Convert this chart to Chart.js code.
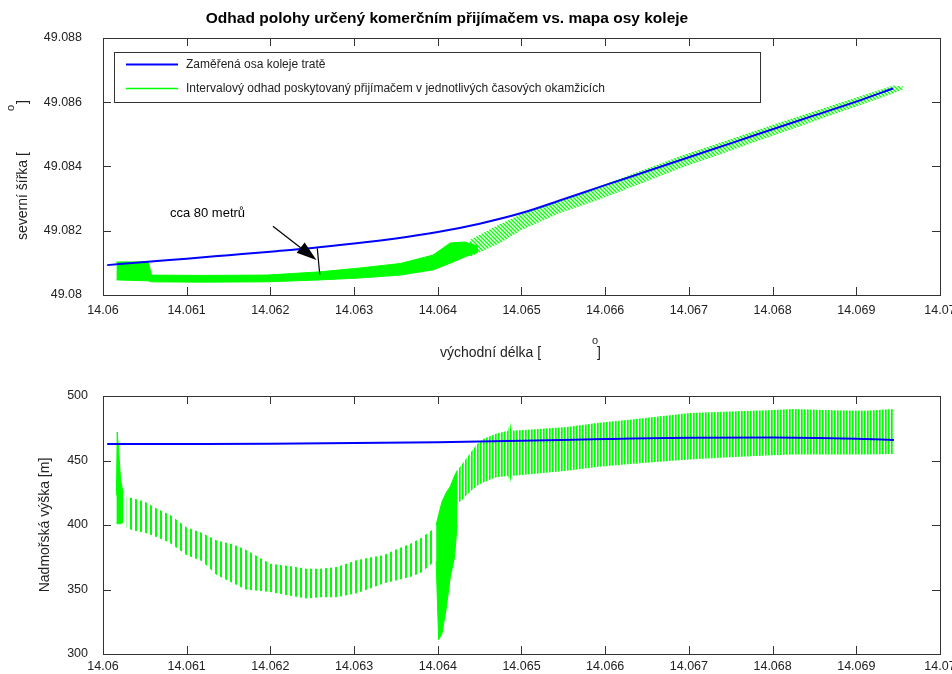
<!DOCTYPE html>
<html>
<head>
<meta charset="utf-8">
<script src="https://cdn.jsdelivr.net/npm/chart.js@4.4.1/dist/chart.umd.min.js"></script>
<style>
    html, body { margin: 0; padding: 0; background: #fff; }
    #wrap { position: relative; width: 952px; height: 674px; overflow: hidden; }
    #topChart { position: absolute; left: 0; top: 0; }
    #bottomChart { position: absolute; left: 0; top: 370px; }
</style>
</head>
<body>
<div id="wrap">
    <canvas id="topChart" width="952" height="370"></canvas>
    <canvas id="bottomChart" width="952" height="304"></canvas>
</div>
<script>
// Axis ticks
const lonTicks = [14.06, 14.061, 14.062, 14.063, 14.064, 14.065, 14.066, 14.067, 14.068, 14.069, 14.07];
const lonTickLabels = ["14.06", "14.061", "14.062", "14.063", "14.064", "14.065", "14.066", "14.067", "14.068", "14.069", "14.07"];
const latTicks = [49.08, 49.082, 49.084, 49.086, 49.088];
const latTickLabels = ["49.08", "49.082", "49.084", "49.086", "49.088"];
const altTicks = [300, 350, 400, 450, 500];
const altTickLabels = ["300", "350", "400", "450", "500"];

// Surveyed track axis (top: position)
const trackLon = [14.06005, 14.0605, 14.061, 14.0615, 14.062, 14.0625, 14.063, 14.0635, 14.064, 14.0645,
    14.065, 14.0655, 14.066, 14.0665, 14.067, 14.0675, 14.068, 14.0685, 14.069, 14.06944];
const trackLat = [49.08093, 49.08103, 49.08113, 49.08124, 49.08135, 49.08146, 49.0816, 49.08176, 49.08196, 49.08222,
    49.08255, 49.08298, 49.08342, 49.08385, 49.08429, 49.08472, 49.08516, 49.08559, 49.08602, 49.08643];

// Receiver interval estimates (top), dense part
const fixLon = [14.06016, 14.06054, 14.06058, 14.06116, 14.06196, 14.06259, 14.06307, 14.06355, 14.06394, 14.06415, 14.06432, 14.06448];
const fixLatLow = [49.08047, 49.08044, 49.08041, 49.0804, 49.08041, 49.08047, 49.08053, 49.08062, 49.08078, 49.08099, 49.08118, 49.08134];
const fixLatHigh = [49.08103, 49.08103, 49.08062, 49.08061, 49.08062, 49.08072, 49.08084, 49.08098, 49.08124, 49.08162, 49.08165, 49.08152];
// Receiver interval estimates (top), hatched part along the track
const fixTailLon = [14.06438, 14.06474, 14.065, 14.06546, 14.06594, 14.06689, 14.06808, 14.06944, 14.06956];
const fixTailLatLow = [49.08118, 49.08161, 49.08202, 49.08255, 49.08298, 49.08394, 49.08503, 49.08627, 49.0864];
const fixTailLatHigh = [49.08171, 49.0822, 49.08252, 49.08295, 49.08339, 49.08432, 49.08537, 49.08652, 49.08649];

// Annotation
const noteText = "cca 80 metrů";
const notePos = [14.0608, 49.08242];
const arrowFrom = [14.06203, 49.08214];
const arrowTo = [14.06255, 49.08109];
const gapFrom = [14.06256, 49.08145];
const gapTo = [14.06259, 49.08064];

// Track altitude (bottom)
const trackAltLon = [14.06005, 14.061, 14.062, 14.063, 14.064, 14.065, 14.066, 14.067, 14.068, 14.069, 14.06945];
const trackAlt = [462.7, 462.8, 463, 463.5, 464.2, 465.3, 466.7, 467.7, 467.8, 466.8, 465.9];

// Receiver altitude intervals (bottom)
const altSpikeLon = [14.06016, 14.06017, 14.06019, 14.06021, 14.06024];
const altSpikeLow = [402, 401, 401, 401, 402];
const altSpikeHigh = [423, 472, 455, 435, 425];

const altLeftLon = [14.06028, 14.06035, 14.0605, 14.06064, 14.0608, 14.061, 14.06118, 14.06136, 14.06155, 14.0617,
    14.062, 14.06225, 14.06243, 14.0626, 14.06279, 14.06303, 14.0632, 14.06335, 14.0635, 14.06367, 14.0638, 14.06395];
const altLeftLow = [398, 396, 394, 390.7, 386, 376.5, 372, 361, 355, 350,
    348, 345, 343, 344, 344, 347, 351, 354.6, 357, 359.7, 363, 371.3];
const altLeftHigh = [421.6, 421, 418, 412.8, 408, 398, 394, 388, 385, 381,
    370, 368, 366, 366, 367.5, 372.6, 375, 376.5, 381, 385.5, 390, 397];

const altDipLon = [14.06398, 14.06401, 14.06405, 14.0641, 14.06415, 14.0642, 14.06423];
const altDipLow = [372, 311, 316, 335, 360, 375, 400];
const altDipHigh = [400, 408, 418, 425, 430, 438, 442];

const altRightLon = [14.06423, 14.0643, 14.06438, 14.06446, 14.06454, 14.0647, 14.06484, 14.06486, 14.06488, 14.0652,
    14.06554, 14.0659, 14.06634, 14.06701, 14.0675, 14.06793, 14.06825, 14.0687, 14.06912, 14.06944];
const altRightLow = [416.5, 420, 425.5, 430, 433, 437, 438, 432, 438, 440,
    442, 445, 447.4, 450.7, 452.5, 453.8, 454.6, 454.6, 454.6, 455];
const altRightHigh = [442, 448, 455, 462, 466.7, 471, 473, 481, 473, 474.5,
    476, 479, 482, 486.8, 488, 489, 490, 489, 488.6, 490];

const legendLabels = ["Zaměřená osa koleje tratě", "Intervalový odhad poskytovaný přijímačem v jednotlivých časových okamžicích"];

const FONT = '"Liberation Sans", Arial, sans-serif';
const BLUE = "#0000ff";
const GREEN = "#00ff00";
const AXIS = "#333333";
const TEXT = "#222222";

// Fill patterns for the interval bands
function makePattern(w, h, draw) {
    const c = document.createElement("canvas");
    c.width = w;
    c.height = h;
    const g = c.getContext("2d");
    draw(g);
    return g.createPattern(c, "repeat");
}
const sparseBars = makePattern(5, 4, (g) => { g.fillStyle = GREEN; g.fillRect(0, 0, 2, 4); });
const denseBars = makePattern(3, 4, (g) => { g.fillStyle = GREEN; g.fillRect(0, 0, 1.7, 4); });
const hatch = makePattern(4, 4, (g) => {
    g.strokeStyle = GREEN;
    g.lineWidth = 1.3;
    g.beginPath();
    g.moveTo(-1, -1); g.lineTo(5, 5);
    g.moveTo(-5, -1); g.lineTo(1, 5);
    g.moveTo(3, -1); g.lineTo(9, 5);
    g.stroke();
});

function pts(xs, ys) {
    return xs.map((x, i) => ({ x: x, y: ys[i] }));
}
function lineSet(xs, ys, color, width) {
    return {
        data: pts(xs, ys), borderColor: color, borderWidth: width, pointRadius: 0, fill: false,
        cubicInterpolationMode: "monotone",
    };
}
function bandSet(xs, lo, hi, fillStyle, edge) {
    const stroke = edge ? GREEN : "rgba(0,0,0,0)";
    return [
        { data: pts(xs, lo), borderColor: stroke, borderWidth: edge ? 1 : 0, pointRadius: 0, fill: false, tension: 0 },
        { data: pts(xs, hi), borderColor: stroke, borderWidth: edge ? 1 : 0, pointRadius: 0, fill: "-1", backgroundColor: fillStyle, tension: 0 },
    ];
}

function xScale(labelPad, height) {
    return {
        type: "linear",
        min: 14.06,
        max: 14.07,
        grid: { display: false, drawTicks: false },
        border: { display: false },
        afterBuildTicks: (s) => { s.ticks = lonTicks.map((v) => ({ value: v })); },
        ticks: {
            autoSkip: false, maxRotation: 0, padding: labelPad, color: TEXT,
            font: { family: FONT, size: 12.5 },
            callback: (v, i) => lonTickLabels[i],
        },
        afterFit: (s) => { s.height = height; s.paddingLeft = 0; s.paddingRight = 0; },
    };
}
function yScale(min, max, ticks, labels, labelPad) {
    return {
        type: "linear",
        min: min,
        max: max,
        grid: { display: false, drawTicks: false },
        border: { display: false },
        afterBuildTicks: (s) => { s.ticks = ticks.map((v) => ({ value: v })); },
        ticks: {
            autoSkip: false, padding: labelPad, color: TEXT,
            font: { family: FONT, size: 12.5 },
            callback: (v, i) => labels[i],
        },
        afterFit: (s) => { s.width = 103; s.paddingTop = 0; s.paddingBottom = 0; },
    };
}

// Box around the axes with inward ticks on all four sides
const boxTicks = {
    id: "boxTicks",
    afterDatasetsDraw(chart) {
        const { ctx, chartArea: a, scales } = chart;
        ctx.save();
        ctx.strokeStyle = AXIS;
        ctx.lineWidth = 1;
        ctx.strokeRect(Math.round(a.left) + 0.5, Math.round(a.top) + 0.5, Math.round(a.width), Math.round(a.height));
        ctx.beginPath();
        scales.x.ticks.forEach((t) => {
            const px = Math.round(scales.x.getPixelForValue(t.value)) + 0.5;
            ctx.moveTo(px, a.bottom); ctx.lineTo(px, a.bottom - 8);
            ctx.moveTo(px, a.top); ctx.lineTo(px, a.top + 8);
        });
        scales.y.ticks.forEach((t) => {
            const py = Math.round(scales.y.getPixelForValue(t.value)) + 0.5;
            ctx.moveTo(a.left, py); ctx.lineTo(a.left + 8, py);
            ctx.moveTo(a.right, py); ctx.lineTo(a.right - 8, py);
        });
        ctx.stroke();
        ctx.restore();
    },
};

// Title, axis titles, legend box and the arrow note of the top plot
const topDecor = {
    id: "topDecor",
    afterDraw(chart) {
        const { ctx, scales: { x, y } } = chart;
        ctx.save();
        ctx.fillStyle = "#000";
        ctx.font = "bold 15.5px " + FONT;
        ctx.textAlign = "center";
        ctx.textBaseline = "middle";
        ctx.fillText("Odhad polohy určený komerčním přijímačem vs. mapa osy koleje", 447, 19);

        ctx.fillStyle = TEXT;
        ctx.font = "14px " + FONT;
        ctx.textAlign = "left";
        ctx.textBaseline = "alphabetic";
        ctx.fillText("východní délka [", 440, 357);
        ctx.fillText("]", 597, 357);
        ctx.font = "11px " + FONT;
        ctx.fillText("o", 592, 344);

        ctx.save();
        ctx.translate(27, 0);
        ctx.rotate(-Math.PI / 2);
        ctx.font = "14px " + FONT;
        ctx.fillText("severní šířka [", -240, 0);
        ctx.fillText("]", -104, 0);
        ctx.font = "11px " + FONT;
        ctx.fillText("o", -111, -13);
        ctx.restore();

        // legend
        ctx.fillStyle = "#fff";
        ctx.fillRect(114.5, 52.5, 646, 50);
        ctx.strokeStyle = AXIS;
        ctx.lineWidth = 1;
        ctx.strokeRect(114.5, 52.5, 646, 50);
        const rows = [[BLUE, 64.5], [GREEN, 88.5]];
        ctx.font = "12px " + FONT;
        ctx.textBaseline = "middle";
        rows.forEach((r, i) => {
            ctx.strokeStyle = r[0];
            ctx.lineWidth = i === 0 ? 2 : 1.5;
            ctx.beginPath();
            ctx.moveTo(126, r[1]);
            ctx.lineTo(178, r[1]);
            ctx.stroke();
            ctx.fillStyle = TEXT;
            ctx.fillText(legendLabels[i], 186, r[1]);
        });

        // note with arrow
        ctx.fillStyle = "#000";
        ctx.font = "13px " + FONT;
        ctx.textBaseline = "alphabetic";
        ctx.fillText(noteText, x.getPixelForValue(notePos[0]), y.getPixelForValue(notePos[1]));
        const x1 = x.getPixelForValue(arrowFrom[0]), y1 = y.getPixelForValue(arrowFrom[1]);
        const x2 = x.getPixelForValue(arrowTo[0]), y2 = y.getPixelForValue(arrowTo[1]);
        const ang = Math.atan2(y2 - y1, x2 - x1);
        const hl = 20, hw = 6.5;
        ctx.strokeStyle = "#000";
        ctx.lineWidth = 1.2;
        ctx.beginPath();
        ctx.moveTo(x1, y1);
        ctx.lineTo(x2 - hl * Math.cos(ang), y2 - hl * Math.sin(ang));
        ctx.stroke();
        ctx.beginPath();
        ctx.moveTo(x2, y2);
        ctx.lineTo(x2 - hl * Math.cos(ang) + hw * Math.sin(ang), y2 - hl * Math.sin(ang) - hw * Math.cos(ang));
        ctx.lineTo(x2 - hl * Math.cos(ang) - hw * Math.sin(ang), y2 - hl * Math.sin(ang) + hw * Math.cos(ang));
        ctx.closePath();
        ctx.fill();
        ctx.beginPath();
        ctx.moveTo(x.getPixelForValue(gapFrom[0]), y.getPixelForValue(gapFrom[1]));
        ctx.lineTo(x.getPixelForValue(gapTo[0]), y.getPixelForValue(gapTo[1]));
        ctx.stroke();
        ctx.restore();
    },
};

const bottomDecor = {
    id: "bottomDecor",
    afterDraw(chart) {
        const ctx = chart.ctx;
        ctx.save();
        ctx.fillStyle = TEXT;
        ctx.font = "14px " + FONT;
        ctx.textAlign = "center";
        ctx.textBaseline = "alphabetic";
        ctx.translate(49, 155);
        ctx.rotate(-Math.PI / 2);
        ctx.fillText("Nadmořská výška [m]", 0, 0);
        ctx.restore();
    },
};

const baseOptions = {
    responsive: false,
    animation: false,
    events: [],
    plugins: { legend: { display: false }, tooltip: { enabled: false } },
};

new Chart(document.getElementById("topChart").getContext("2d"), {
    type: "line",
    data: {
        datasets: [
            lineSet(trackLon, trackLat, BLUE, 2),
            ...bandSet(fixLon, fixLatLow, fixLatHigh, GREEN, true),
            ...bandSet(fixTailLon, fixTailLatLow, fixTailLatHigh, hatch, false),
        ],
    },
    options: {
        ...baseOptions,
        layout: { padding: { left: 0, right: 12, top: 38, bottom: 0 } },
        scales: {
            x: xScale(8.5, 75),
            y: yScale(49.08, 49.088, latTicks, latTickLabels, 21),
        },
    },
    plugins: [boxTicks, topDecor],
});

new Chart(document.getElementById("bottomChart").getContext("2d"), {
    type: "line",
    data: {
        datasets: [
            lineSet(trackAltLon, trackAlt, BLUE, 2),
            ...bandSet(altSpikeLon, altSpikeLow, altSpikeHigh, GREEN, true),
            ...bandSet(altLeftLon, altLeftLow, altLeftHigh, sparseBars, false),
            ...bandSet(altDipLon, altDipLow, altDipHigh, GREEN, true),
            ...bandSet(altRightLon, altRightLow, altRightHigh, denseBars, false),
        ],
    },
    options: {
        ...baseOptions,
        layout: { padding: { left: 0, right: 12, top: 26, bottom: 0 } },
        scales: {
            x: xScale(5, 20),
            y: yScale(300, 500, altTicks, altTickLabels, 15),
        },
    },
    plugins: [boxTicks, bottomDecor],
});
</script>
</body>
</html>
